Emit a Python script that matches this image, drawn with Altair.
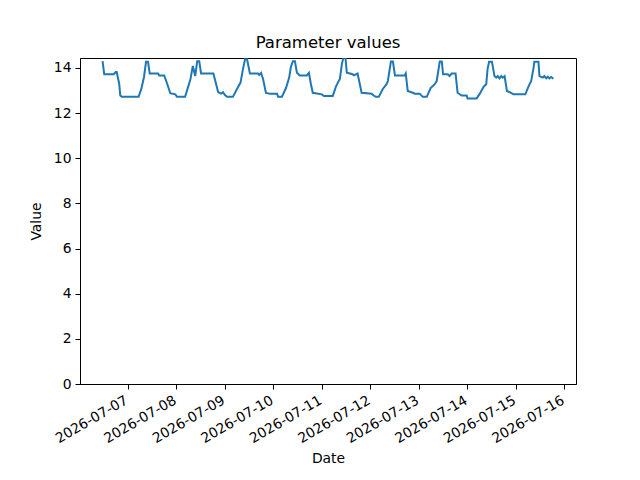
import altair as alt
import pandas as pd

times = [
    "2026-07-06 11:30", "2026-07-06 12:20", "2026-07-06 17:00", "2026-07-06 18:00", "2026-07-06 18:30",
    "2026-07-06 19:45", "2026-07-06 20:15", "2026-07-06 21:00", "2026-07-07 05:20", "2026-07-07 06:40",
    "2026-07-07 08:00", "2026-07-07 09:00", "2026-07-07 10:00", "2026-07-07 10:50", "2026-07-07 15:00",
    "2026-07-07 15:30", "2026-07-07 18:00", "2026-07-07 19:30", "2026-07-07 21:00", "2026-07-07 23:30",
    "2026-07-08 00:20", "2026-07-08 04:20", "2026-07-08 05:50", "2026-07-08 07:00", "2026-07-08 08:10",
    "2026-07-08 09:20", "2026-07-08 10:20", "2026-07-08 11:20", "2026-07-08 12:15", "2026-07-08 18:20",
    "2026-07-08 19:40", "2026-07-08 20:40", "2026-07-08 22:05", "2026-07-08 23:05", "2026-07-09 00:05",
    "2026-07-09 01:05", "2026-07-09 04:00", "2026-07-09 06:00", "2026-07-09 07:45", "2026-07-09 09:00",
    "2026-07-09 10:00", "2026-07-09 11:00", "2026-07-09 12:25", "2026-07-09 16:25", "2026-07-09 17:00",
    "2026-07-09 17:55", "2026-07-09 18:55", "2026-07-09 20:20", "2026-07-09 22:20", "2026-07-10 01:50",
    "2026-07-10 02:20", "2026-07-10 04:15", "2026-07-10 06:15", "2026-07-10 07:50", "2026-07-10 08:40",
    "2026-07-10 09:40", "2026-07-10 10:40", "2026-07-10 11:40", "2026-07-10 13:05", "2026-07-10 16:35",
    "2026-07-10 17:35", "2026-07-10 18:35", "2026-07-10 19:30", "2026-07-11 00:00", "2026-07-11 01:00",
    "2026-07-11 05:25", "2026-07-11 06:55", "2026-07-11 07:55", "2026-07-11 08:55", "2026-07-11 09:55",
    "2026-07-11 10:55", "2026-07-11 11:35", "2026-07-11 12:20", "2026-07-11 15:15", "2026-07-11 15:50",
    "2026-07-11 17:40", "2026-07-11 18:40", "2026-07-11 19:40", "2026-07-12 00:40", "2026-07-12 01:40",
    "2026-07-12 02:40", "2026-07-12 04:10", "2026-07-12 06:10", "2026-07-12 08:00", "2026-07-12 08:40",
    "2026-07-12 10:10", "2026-07-12 11:10", "2026-07-12 12:10", "2026-07-12 17:00", "2026-07-12 17:30",
    "2026-07-12 18:30", "2026-07-12 21:00", "2026-07-12 22:00", "2026-07-13 00:25", "2026-07-13 01:55",
    "2026-07-13 03:55", "2026-07-13 05:50", "2026-07-13 07:50", "2026-07-13 08:50", "2026-07-13 10:20",
    "2026-07-13 11:20", "2026-07-13 12:00", "2026-07-13 14:15", "2026-07-13 15:15", "2026-07-13 16:10",
    "2026-07-13 18:10", "2026-07-13 19:10", "2026-07-13 21:10", "2026-07-13 23:40", "2026-07-14 00:05",
    "2026-07-14 04:35", "2026-07-14 06:00", "2026-07-14 08:00", "2026-07-14 09:20", "2026-07-14 10:00",
    "2026-07-14 10:45", "2026-07-14 12:10", "2026-07-14 13:25", "2026-07-14 14:15", "2026-07-14 15:00",
    "2026-07-14 15:55", "2026-07-14 16:45", "2026-07-14 17:30", "2026-07-14 18:25", "2026-07-14 19:35",
    "2026-07-14 21:50", "2026-07-14 22:50", "2026-07-15 04:40", "2026-07-15 06:10", "2026-07-15 07:35",
    "2026-07-15 08:40", "2026-07-15 09:10", "2026-07-15 11:10", "2026-07-15 11:40", "2026-07-15 13:20",
    "2026-07-15 14:05", "2026-07-15 15:00", "2026-07-15 15:50", "2026-07-15 16:35", "2026-07-15 17:25",
    "2026-07-15 18:35",
]

values = [
    14.30, 13.72, 13.72, 13.82, 13.82,
    13.29, 12.78, 12.72, 12.72, 13.07,
    13.60, 14.27, 14.27, 13.75, 13.75,
    13.67, 13.67, 13.29, 12.88, 12.83,
    12.72, 12.72, 13.16, 13.51, 14.09,
    13.64, 14.30, 14.30, 13.75, 13.75,
    13.29, 12.93, 12.86, 12.93, 12.80,
    12.72, 12.72, 13.07, 13.35, 13.96,
    14.38, 14.38, 13.75, 13.75, 13.69,
    13.78, 13.51, 12.89, 12.86, 12.86,
    12.72, 12.72, 13.11, 13.57, 14.04,
    14.30, 14.30, 13.79, 13.67, 13.67,
    13.78, 13.29, 12.90, 12.83, 12.76,
    12.76, 13.16, 13.35, 13.51, 14.18,
    14.55, 14.55, 13.79, 13.72, 13.67,
    13.75, 13.33, 12.90, 12.86, 12.78,
    12.72, 12.72, 13.07, 13.28, 13.42,
    14.28, 14.28, 13.67, 13.67, 13.76,
    12.98, 12.90, 12.86, 12.86, 12.72,
    12.72, 13.11, 13.28, 13.42, 14.28,
    14.28, 13.72, 13.72, 13.64, 13.75,
    13.75, 12.90, 12.78, 12.78, 12.65,
    12.65, 12.84, 13.16, 13.28, 13.96,
    14.27, 14.27, 13.64, 13.57, 13.64,
    13.54, 13.64, 13.57, 13.64, 12.98,
    12.88, 12.83, 12.83, 13.16, 13.42,
    13.96, 14.27, 14.27, 13.64, 13.57,
    13.64, 13.54, 13.61, 13.54, 13.60,
    13.52,
]

y_ticks = [0, 2, 4, 6, 8, 10, 12, 14]
x_tick_days = [7, 8, 9, 10, 11, 12, 13, 14, 15, 16]

df = pd.DataFrame({"Date": pd.to_datetime(times), "Value": values})

FONT = "DejaVu Sans"

x_domain = [
    alt.DateTime(year=2026, month=7, date=6, hours=0, minutes=20),
    alt.DateTime(year=2026, month=7, date=16, hours=5, minutes=45),
]
x_values = [alt.DateTime(year=2026, month=7, date=d) for d in x_tick_days]

chart = (
    alt.Chart(df)
    .mark_line(color="#1f77b4", strokeWidth=2, clip=True)
    .encode(
        x=alt.X(
            "Date:T",
            scale=alt.Scale(domain=x_domain),
            axis=alt.Axis(
                title="Date",
                values=x_values,
                format="%Y-%m-%d",
                labelAngle=-30,
                labelAlign="right",
                labelBaseline="top",
                labelOffset=-5,
                labelOverlap=False,
                titlePadding=6,
            ),
        ),
        y=alt.Y(
            "Value:Q",
            scale=alt.Scale(domain=[0, 14.44], nice=False, zero=True),
            axis=alt.Axis(title="Value", values=y_ticks, format="d", titlePadding=10),
        ),
    )
    .properties(
        width=496,
        height=326,
        title=alt.TitleParams(
            "Parameter values", font=FONT, fontSize=16.5, fontWeight="normal",
            color="black", anchor="middle", offset=7,
        ),
        autosize=alt.AutoSizeParams(type="none"),
        padding={"left": 72, "top": 50, "right": 50, "bottom": 90},
    )
    .configure_view(stroke="black", strokeWidth=1)
    .configure_axis(
        grid=False,
        domainColor="black",
        domainWidth=1,
        tickColor="black",
        tickWidth=1,
        tickSize=5,
        labelColor="black",
        labelFont=FONT,
        labelFontSize=13.9,
        labelPadding=4,
        titleFont=FONT,
        titleFontSize=13.9,
        titleFontWeight="normal",
        titleColor="black",
    )
)

chart.save("out.html", embed_options={"renderer": "svg", "actions": False})
